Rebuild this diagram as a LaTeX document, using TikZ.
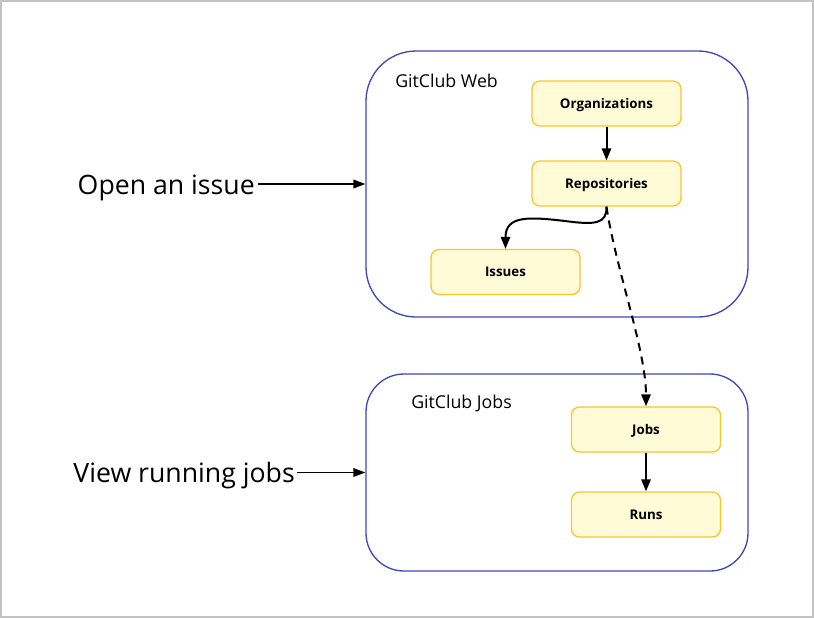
\documentclass[tikz,border=0pt]{standalone}
\usepackage{fontspec}
\setmainfont{Open Sans}
\usetikzlibrary{arrows.meta}
\definecolor{grpblue}{RGB}{62,72,182}
\definecolor{entfill}{RGB}{255,251,214}
\definecolor{entdraw}{RGB}{248,196,48}
\definecolor{framegray}{RGB}{194,194,194}
\tikzset{
  grp/.style={draw=grpblue, line width=1pt, rectangle, inner sep=0pt},
  ent/.style={draw=entdraw, fill=entfill, line width=1pt, rectangle, rounded corners=6pt,
    minimum width=111.75pt, minimum height=33.75pt, inner sep=0pt, text depth=0pt,
    font=\fontsize{10}{12}\selectfont\bfseries},
  grplabel/.style={inner sep=0pt, anchor=west, font=\fontsize{13.3}{16}\selectfont},
  biglabel/.style={inner sep=0pt, anchor=base east, font=\fontsize{20}{24}\selectfont},
  arr/.style={line width=1.5pt, -{Triangle[length=9pt,width=7pt]}},
  extarr/.style={line width=1pt, -{Triangle[length=9pt,width=6.5pt]}},
}
\begin{document}
\begin{tikzpicture}[x=0.75pt,y=-0.75pt]
\useasboundingbox (0,0) rectangle (814,618);
\draw[framegray, line width=1.5pt] (1,1) rectangle (813,617);
% groups
\node[grp, rounded corners=37.5pt, minimum width=286.5pt, minimum height=199.5pt] (web) at (557,184) {};
\node[grp, rounded corners=28.5pt, minimum width=286.5pt, minimum height=147.75pt] (jobsgrp) at (557,472.5) {};
\node[grplabel] (weblbl) at (395,81) {GitClub Web};
\node[grplabel] (jobslbl) at (411,403) {GitClub Jobs};
% entities
\node[ent] (org) at (606.5,103.5) {Organizations};
\node[ent] (rep) at (606.5,183.5) {Repositories};
\node[ent] (iss) at (505.5,272) {Issues};
\node[ent] (jobs) at (646,429.5) {Jobs};
\node[ent] (runs) at (646,514.5) {Runs};
% external labels
\node[biglabel] (open) at (255,194) {Open an issue};
\node[biglabel] (view) at (295,482) {View running jobs};
% connectors
\draw[extarr] ([xshift=2.25pt]open.base east |- web.west) -- (web.west);
\draw[extarr] ([xshift=1.5pt]view.base east |- jobsgrp.west) -- (jobsgrp.west);
\draw[arr] (org.south) -- (rep.north);
\draw[arr] (jobs.south) -- (runs.north);
\draw[arr] (rep.south) .. controls (607,224) and (595,225) .. (565,221)
  .. controls (530,217) and (505.5,215) .. (iss.north);
\draw[arr, dash pattern=on 6pt off 4.5pt] (rep.south) .. controls (616,270) and (646,350) .. (jobs.north);
\end{tikzpicture}
\end{document}
